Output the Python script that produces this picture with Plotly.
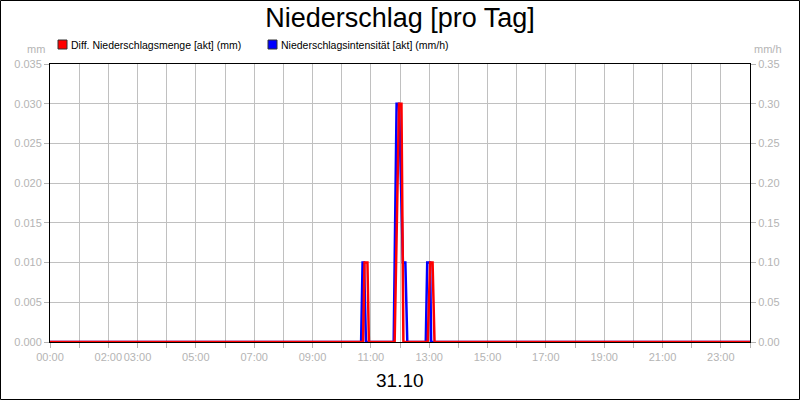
import plotly.graph_objects as go

# ---- data ----
red_times = ["00:00", "10:44", "10:47", "10:53", "10:56",
             "11:49", "11:58", "12:03", "12:07",
             "12:57", "13:02", "13:07", "13:11", "24:00"]
red_values = [0, 0, 0.01, 0.01, 0,
              0, 0.03, 0.03, 0,
              0, 0.01, 0.01, 0, 0]

blue_times = ["00:00", "10:40", "10:43", "10:46", "10:50",
              "11:47", "11:53", "11:58", "12:06", "12:11", "12:15",
              "12:53", "12:56", "13:02", "13:04", "24:00"]
blue_values = [0, 0, 0.1, 0.1, 0,
               0, 0.3, 0.3, 0.1, 0.1, 0,
               0, 0.1, 0.1, 0, 0]

tick_hours = list(range(25))
tick_labels = ["00:00", "", "02:00", "03:00", "", "05:00", "", "07:00", "", "09:00",
               "", "11:00", "", "13:00", "", "15:00", "", "17:00", "", "19:00",
               "", "21:00", "", "23:00", ""]
left_ticks = [0, 0.005, 0.01, 0.015, 0.02, 0.025, 0.03, 0.035]
right_ticks = [0, 0.05, 0.1, 0.15, 0.2, 0.25, 0.3, 0.35]

series_names = ["Diff. Niederschlagsmenge [akt] (mm)", "Niederschlagsintensität [akt] (mm/h)"]
series_colors = ["#ff0000", "#0000ff"]


def to_hours(t):
    h, m = t.split(":")
    return int(h) + int(m) / 60.0


fig = go.Figure()
# blue on primary (right, mm/h) axis; red on overlaying (left, mm) axis so it draws on top
fig.add_trace(go.Scatter(x=[to_hours(t) for t in blue_times], y=blue_values,
                         mode="lines", line=dict(color=series_colors[1], width=2.5),
                         name=series_names[1], yaxis="y", showlegend=False))
fig.add_trace(go.Scatter(x=[to_hours(t) for t in red_times], y=red_values,
                         mode="lines", line=dict(color=series_colors[0], width=2.5),
                         name=series_names[0], yaxis="y2", showlegend=False))

W, H = 800, 400
L, R, T, B = 50, 50, 64, 58
pw, ph = W - L - R, H - T - B


def px(x):
    return (x - L) / pw


def py(y):
    return (H - B - y) / ph


tick_font = dict(family="Liberation Sans, Arial, sans-serif", size=11, color="#b4b4b4")

fig.update_layout(
    width=W, height=H,
    margin=dict(l=L, r=R, t=T, b=B, autoexpand=False),
    paper_bgcolor="white", plot_bgcolor="white",
    showlegend=False,
    font=dict(family="Liberation Sans, Arial, sans-serif"),
    title=dict(text="Niederschlag [pro Tag]", x=0.5, xanchor="center",
               xref="container", yref="container", y=1 - 18 / H, yanchor="middle",
               font=dict(size=27, color="black")),
    xaxis=dict(range=[0, 24], tickmode="array", tickvals=tick_hours, ticktext=tick_labels,
               tickangle=0, automargin=False,
               showgrid=True, gridcolor="#c0c0c0", gridwidth=1,
               ticks="outside", ticklen=5, tickcolor="#b4b4b4",
               showline=True, linecolor="black", linewidth=1, mirror=True,
               tickfont=tick_font, zeroline=False),
    yaxis=dict(range=[0, 0.35], tickmode="array", tickvals=right_ticks,
               ticktext=[f"{v:.2f}" for v in right_ticks], automargin=False,
               side="right",
               showgrid=True, gridcolor="#c0c0c0", gridwidth=1,
               ticks="outside", ticklen=5, tickcolor="#b4b4b4",
               showline=True, linecolor="black", linewidth=1, mirror=True,
               tickfont=tick_font, zeroline=False),
    yaxis2=dict(range=[0, 0.035], tickmode="array", tickvals=left_ticks,
                ticktext=[f"{v:.3f}" for v in left_ticks], automargin=False,
                overlaying="y", side="left", showgrid=False,
                ticks="outside", ticklen=5, tickcolor="#b4b4b4",
                tickfont=tick_font, zeroline=False),
)

shapes = [
    # outer border
    dict(type="rect", xref="paper", yref="paper",
         x0=px(0.5), x1=px(W - 0.5), y0=py(H - 0.5), y1=py(0.5),
         line=dict(color="black", width=1), fillcolor="rgba(0,0,0,0)", layer="above"),
]
annotations = [
    dict(text="mm", xref="paper", yref="paper", x=px(47), y=py(49),
         xanchor="right", yanchor="middle", showarrow=False,
         font=dict(size=11, color="#b4b4b4")),
    dict(text="mm/h", xref="paper", yref="paper", x=px(752), y=py(49),
         xanchor="left", yanchor="middle", showarrow=False,
         font=dict(size=11, color="#b4b4b4")),
    dict(text="31.10", xref="paper", yref="paper", x=0.5, y=py(380),
         xanchor="center", yanchor="middle", showarrow=False,
         font=dict(size=19, color="black")),
]
legend_x = [58, 268]
for name, color, lx in zip(series_names, series_colors, legend_x):
    shapes.append(dict(type="rect", xref="paper", yref="paper",
                       x0=px(lx), x1=px(lx + 9), y0=py(49), y1=py(40),
                       line=dict(color="#333333", width=1), fillcolor=color))
    annotations.append(dict(text=name, xref="paper", yref="paper", x=px(lx + 11), y=py(44.5),
                            xanchor="left", yanchor="middle", showarrow=False,
                            font=dict(size=10.5, color="black")))

fig.update_layout(shapes=shapes, annotations=annotations)
fig.write_html("out.html", config={"displayModeBar": False},
               post_script="document.body.style.margin='0';document.body.style.overflow='hidden';")
